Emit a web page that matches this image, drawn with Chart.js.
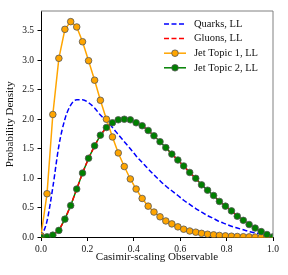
<!DOCTYPE html>
<html>
<head>
<meta charset="utf-8">
<script src="https://cdn.jsdelivr.net/npm/chart.js@4.4.0/dist/chart.umd.min.js"></script>
<style>
  html, body { margin: 0; padding: 0; background: #fff; }
</style>
</head>
<body>
<canvas id="chart" width="288" height="275"></canvas>
<script>
// observable values (40 sample points)
const xValues = [0, 0.026, 0.051, 0.077, 0.103, 0.128, 0.154, 0.179, 0.205, 0.231,
  0.256, 0.282, 0.308, 0.333, 0.359, 0.385, 0.410, 0.436, 0.462, 0.487,
  0.513, 0.538, 0.564, 0.590, 0.615, 0.641, 0.667, 0.692, 0.718, 0.744,
  0.769, 0.795, 0.821, 0.846, 0.872, 0.897, 0.923, 0.949, 0.974, 1.0];

const quarks = [0, 0.28, 0.85, 1.55, 2.0, 2.24, 2.33, 2.33, 2.28, 2.19,
  2.07, 1.97, 1.86, 1.74, 1.62, 1.50, 1.38, 1.27, 1.16, 1.06,
  0.96, 0.87, 0.79, 0.71, 0.63, 0.56, 0.49, 0.43, 0.37, 0.32,
  0.27, 0.23, 0.19, 0.16, 0.13, 0.10, 0.08, 0.06, 0.04, 0.02];

const gluons = [0, 0.01, 0.04, 0.12, 0.31, 0.54, 0.82, 1.09, 1.34, 1.55,
  1.73, 1.86, 1.94, 1.99, 2.00, 1.99, 1.94, 1.89, 1.81, 1.72,
  1.62, 1.52, 1.41, 1.31, 1.21, 1.10, 1.00, 0.89, 0.80, 0.71,
  0.61, 0.53, 0.45, 0.36, 0.29, 0.22, 0.16, 0.10, 0.05, 0.01];

const topic1 = [0.03, 0.74, 2.08, 3.03, 3.52, 3.65, 3.56, 3.31, 2.99, 2.66,
  2.32, 2.00, 1.70, 1.43, 1.20, 0.99, 0.82, 0.66, 0.53, 0.43,
  0.35, 0.28, 0.23, 0.18, 0.14, 0.11, 0.09, 0.07, 0.055, 0.045,
  0.035, 0.028, 0.022, 0.017, 0.013, 0.010, 0.007, 0.005, 0.003, 0.002];

const topic2 = [0, 0.01, 0.04, 0.12, 0.31, 0.54, 0.82, 1.09, 1.34, 1.55,
  1.73, 1.86, 1.94, 1.99, 2.00, 1.99, 1.94, 1.89, 1.81, 1.72,
  1.62, 1.52, 1.41, 1.31, 1.21, 1.10, 1.00, 0.89, 0.80, 0.71,
  0.61, 0.53, 0.45, 0.36, 0.29, 0.22, 0.16, 0.10, 0.05, 0.01];

const xTicks = [0, 0.2, 0.4, 0.6, 0.8, 1.0];
const yTicks = [0, 0.5, 1.0, 1.5, 2.0, 2.5, 3.0, 3.5];

const FONT = "'Liberation Serif', serif";

const pts = (ys) => xValues.map((x, i) => ({ x: x, y: ys[i] }));

// legend entries: label, colour, dashed, marker
const legendItems = [
  { label: "Quarks, LL", color: "#0000ff", dash: true, marker: null },
  { label: "Gluons, LL", color: "#ff0000", dash: true, marker: null },
  { label: "Jet Topic 1, LL", color: "#ffa500", dash: false, marker: "#ffa500" },
  { label: "Jet Topic 2, LL", color: "#008000", dash: false, marker: "#008000" },
];

const framePlugin = {
  id: "frame",
  afterDatasetsDraw(chart) {
    const { ctx, chartArea: a } = chart;
    ctx.save();
    ctx.strokeStyle = "#808080";
    ctx.lineWidth = 1;
    ctx.beginPath();
    ctx.moveTo(a.left, a.top);
    ctx.lineTo(a.right, a.top);
    ctx.lineTo(a.right, a.bottom);
    ctx.stroke();

    // legend in the upper right corner
    let y = 24;
    legendItems.forEach((it) => {
      ctx.strokeStyle = it.color;
      ctx.lineWidth = 1.5;
      ctx.setLineDash(it.dash ? [5, 2.5] : []);
      ctx.beginPath();
      ctx.moveTo(164, y);
      ctx.lineTo(186, y);
      ctx.stroke();
      ctx.setLineDash([]);
      if (it.marker) {
        ctx.fillStyle = it.marker;
        ctx.strokeStyle = "#555";
        ctx.lineWidth = 0.8;
        ctx.beginPath();
        ctx.arc(175, y, 3.3, 0, Math.PI * 2);
        ctx.fill();
        ctx.stroke();
      }
      ctx.fillStyle = "#111";
      ctx.font = "10.5px " + FONT;
      ctx.textBaseline = "middle";
      ctx.textAlign = "left";
      ctx.fillText(it.label, 194, y);
      y += 14.6;
    });
    ctx.restore();
  },
};

new Chart(document.getElementById("chart"), {
  type: "scatter",
  data: {
    datasets: [
      {
        label: "Jet Topic 2, LL",
        data: pts(topic2),
        showLine: false,
        pointRadius: 3.3,
        pointBackgroundColor: "#008000",
        pointBorderColor: "#555",
        pointBorderWidth: 0.8,
        order: 0,
      },
      {
        label: "Jet Topic 1, LL",
        data: pts(topic1),
        showLine: true,
        borderColor: "#ffa500",
        borderWidth: 1.5,
        pointRadius: 3.3,
        pointBackgroundColor: "#ffa500",
        pointBorderColor: "#555",
        pointBorderWidth: 0.8,
        order: 1,
      },
      {
        label: "Gluons, LL",
        data: pts(gluons),
        showLine: true,
        borderColor: "#ff0000",
        borderWidth: 1.5,
        borderDash: [5, 2.5],
        pointRadius: 0,
        order: 2,
      },
      {
        label: "Jet Topic 2 line",
        data: pts(topic2),
        showLine: true,
        borderColor: "#008000",
        borderWidth: 1.5,
        pointRadius: 0,
        order: 3,
      },
      {
        label: "Quarks, LL",
        data: pts(quarks),
        showLine: true,
        borderColor: "#0000ff",
        borderWidth: 1.5,
        borderDash: [5, 2.5],
        cubicInterpolationMode: "monotone",
        pointRadius: 0,
        order: 4,
      },
    ],
  },
  options: {
    responsive: false,
    animation: false,
    layout: { padding: { top: 11, right: 15, left: 0, bottom: 0 } },
    plugins: {
      legend: { display: false },
      tooltip: { enabled: false },
    },
    scales: {
      x: {
        type: "linear",
        min: 0,
        max: 1,
        afterBuildTicks: (s) => { s.ticks = xTicks.map((v) => ({ value: v })); },
        afterFit: (s) => { s.height = 37.5; },
        ticks: {
          color: "#111",
          font: { family: FONT, size: 9.5 },
          padding: 2.5,
          callback: (v) => v.toFixed(1),
        },
        grid: { drawOnChartArea: false, tickLength: 3.5, color: "#000" },
        border: { color: "#000", width: 1 },
        title: {
          display: true,
          text: "Casimir-scaling Observable",
          color: "#111",
          font: { family: FONT, size: 11 },
          padding: { top: 0, bottom: 11 },
        },
      },
      y: {
        min: 0,
        max: 3.83,
        afterBuildTicks: (s) => { s.ticks = yTicks.map((v) => ({ value: v })); },
        afterFit: (s) => { s.width = 41; },
        ticks: {
          color: "#111",
          font: { family: FONT, size: 9.5 },
          padding: 3.5,
          callback: (v) => v.toFixed(1),
        },
        grid: { drawOnChartArea: false, tickLength: 3.5, color: "#000" },
        border: { color: "#000", width: 1 },
        title: {
          display: true,
          text: "Probability Density",
          color: "#111",
          font: { family: FONT, size: 11 },
          padding: { top: 4, bottom: 0 },
        },
      },
    },
  },
  plugins: [framePlugin],
});
</script>
</body>
</html>
